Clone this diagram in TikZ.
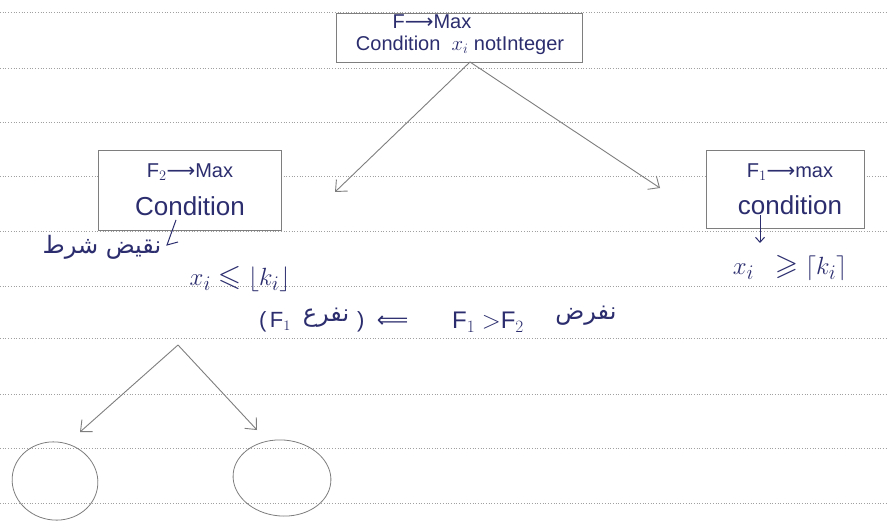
\documentclass[tikz,border=0pt]{standalone}
\usepackage{amssymb}
\usepackage{fontspec}
\setmainfont{Liberation Sans}
\newfontfamily\arabicfont[Script=Arabic]{DejaVu Sans}
\newfontfamily\symbfont{DejaVu Sans}
\TeXXeTstate=1
\usetikzlibrary{arrows.meta,shapes.geometric}
\definecolor{ink}{HTML}{2B2D6E}
\definecolor{penc}{HTML}{7E7E7E}
\definecolor{rulec}{HTML}{A0A0A0}
\begin{document}
\begin{tikzpicture}[x=1pt,y=-1pt,
  txt/.style={text=ink, font=\fontsize{20}{22}\selectfont, inner sep=0pt},
  bigtxt/.style={text=ink, font=\fontsize{30}{33}\selectfont, inner sep=0pt},
  artxt/.style={text=ink, font=\arabicfont\fontsize{24}{28}\selectfont, inner sep=0pt},
  boxst/.style={draw=penc, line width=0.9pt, inner sep=0pt},
  arr/.style={draw=penc, line width=0.9pt, -{Straight Barb[length=9pt,width=16pt]}},
  inkarr/.style={draw=ink, line width=1pt, -{Straight Barb[length=5pt,width=9pt]}},
  inkline/.style={draw=ink, line width=1pt},
  rulest/.style={draw=rulec, line width=0.7pt, dotted},
  blob/.style={draw=penc, line width=0.8pt, ellipse, inner sep=0pt}]
\fill[white] (0,0) rectangle (888,521);
\useasboundingbox (0,0) rectangle (888,521);
% ruled paper
\foreach \yy in {12,68,122,176,231,286,338,394,448,503}
  \draw[rulest] (0,\yy) -- (888,\yy);
% top box
\node[boxst, fill=white, minimum width=246pt, minimum height=49pt] (top) at (459,37.5) {};
\node[txt] (topa) at (432,22) {F{\symbfont ⟶}Max};
\node[txt] (topb) at (460,45) {Condition\; $x_i$ notInteger};
% left box
\node[boxst, fill=white, minimum width=183pt, minimum height=80pt] (lbox) at (189.5,190) {};
\node[txt] (lboxa) at (190,172) {F$_2${\symbfont ⟶}Max};
\node[txt, font=\fontsize{26}{28}\selectfont] (lboxb) at (190,206) {Condition};
% right box
\node[boxst, fill=white, minimum width=158pt, minimum height=78pt] (rbox) at (785,189) {};
\node[txt] (rboxa) at (790,172) {F$_1${\symbfont ⟶}max};
\node[txt, font=\fontsize{26}{28}\selectfont] (rboxb) at (790,205) {condition};
% arrows from top
\coordinate (apex) at (470,62);
\coordinate (ltip) at (335,192);
\coordinate (rtip) at (660,188);
\draw[arr] (apex) -- (ltip);
\draw[arr] (apex) -- (rtip);
% negation note
\node[artxt] (neg) at (102,247) {\beginR نقيض شرط\endR};
\coordinate (hk1) at (176,220);
\coordinate (hk2) at (167,245);
\coordinate (hk3) at (178,242);
\draw[inkline] (hk1) -- (hk2) -- (hk3);
% formulas
\node[bigtxt] (lf) at (240,279) {$x_i \leqslant \lfloor k_i \rfloor$};
\coordinate (rs) at (760,215);
\coordinate (re) at (760,243);
\draw[inkarr] (rs) -- (re);
\node[bigtxt] (rf) at (790,268) {$x_i \;\;\geqslant \lceil k_i \rceil$};
% middle line
\node[txt, font=\fontsize{22}{24}\selectfont] (m1) at (275,322) {(\,F$_1$};
\node[artxt] (m2) at (326,318) {\beginR نفرع\endR};
\node[txt, font=\fontsize{22}{24}\selectfont, anchor=west] (m3) at (357,322) {)\;\;{\symbfont ⟸}};
\node[txt, font=\fontsize{24}{26}\selectfont] (m5) at (488,322) {F$_1$ $>$F$_2$};
\node[artxt] (m6) at (586,316) {\beginR نفرض\endR};
% bottom arrows
\coordinate (bapex) at (178,345);
\coordinate (bl) at (80,432);
\coordinate (br) at (257,430);
\draw[arr] (bapex) -- (bl);
\draw[arr] (bapex) -- (br);
% circles
\node[blob, minimum width=86pt, minimum height=78pt, rotate=-10] (c1) at (55,481) {};
\node[blob, minimum width=98pt, minimum height=76pt, rotate=-5] (c2) at (282,478) {};
\end{tikzpicture}
\end{document}
